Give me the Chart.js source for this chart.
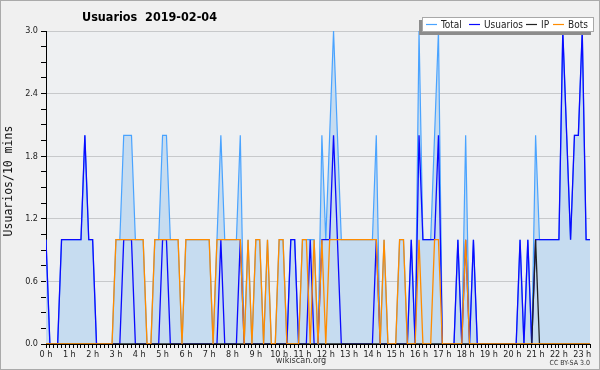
<!DOCTYPE html>
<html>
<head>
<meta charset="utf-8">
<script src="https://cdn.jsdelivr.net/npm/chart.js@4.4.1/dist/chart.umd.min.js"></script>
<style>
html,body{margin:0;padding:0;background:#f0f0f0;}
canvas{display:block;}
</style>
</head>
<body>
<canvas id="c" width="600" height="370"></canvas>
<script>
// ---- data: one value per 10-minute slot, starting at 0:00 ----
const hourLabels = ['0 h','1 h','2 h','3 h','4 h','5 h','6 h','7 h','8 h','9 h','10 h','11 h',
  '12 h','13 h','14 h','15 h','16 h','17 h','18 h','19 h','20 h','21 h','22 h','23 h'];
const yTickLabels = ['0.0','0.6','1.2','1.8','2.4','3.0'];
const seriesNames = ['Total','Usuarios','IP','Bots'];

const total = [
  1,0,0,0,1,1,1,1,1,1,2,1,
  1,0,0,0,0,0,1,1,2,2,2,1,
  1,1,0,0,1,1,2,2,1,1,1,0,
  1,1,1,1,1,1,1,0,1,2,1,1,
  1,1,2,0,1,0,1,1,0,1,0,0,
  1,1,0,1,1,0,1,1,1,1,0,2,
  1,2,3,2,1,1,1,1,1,1,1,1,
  1,2,0,1,0,0,0,1,1,0,1,0,
  3,1,1,1,2,3,0,0,0,0,1,0,
  2,0,1,0,0,0,0,0,0,0,0,0,
  0,0,1,0,1,0,2,1,1,1,1,1,
  1,3,2,1,2,2,3,1,1
];
const usuarios = [
  1,0,0,0,1,1,1,1,1,1,2,1,
  1,0,0,0,0,0,0,0,1,1,1,0,
  0,0,0,0,0,0,1,1,0,0,0,0,
  0,0,0,0,0,0,0,0,0,1,0,0,
  0,0,1,0,0,0,0,0,0,0,0,0,
  0,0,0,1,1,0,0,0,1,0,0,1,
  1,1,2,1,0,0,0,0,0,0,0,0,
  0,1,0,0,0,0,0,0,0,0,1,0,
  2,1,1,1,1,2,0,0,0,0,1,0,
  1,0,1,0,0,0,0,0,0,0,0,0,
  0,0,1,0,1,0,1,1,1,1,1,1,
  1,3,2,1,2,2,3,1,1
];
const ip = [
  0,0,0,0,0,0,0,0,0,0,0,0,
  0,0,0,0,0,0,0,0,0,0,0,0,
  0,0,0,0,0,0,0,0,0,0,0,0,
  0,0,0,0,0,0,0,0,0,0,0,0,
  0,0,0,0,0,0,0,0,0,0,0,0,
  0,0,0,0,0,0,0,0,0,0,0,0,
  0,0,0,0,0,0,0,0,0,0,0,0,
  0,0,0,0,0,0,0,0,0,0,0,0,
  0,0,0,0,0,0,0,0,0,0,0,0,
  0,0,0,0,0,0,0,0,0,0,0,0,
  0,0,0,0,0,0,1,0,0,0,0,0,
  0,0,0,0,0,0,0,0,0
];
const bots = [
  0,0,0,0,0,0,0,0,0,0,0,0,
  0,0,0,0,0,0,1,1,1,1,1,1,
  1,1,0,0,1,1,1,1,1,1,1,0,
  1,1,1,1,1,1,1,0,1,1,1,1,
  1,1,1,0,1,0,1,1,0,1,0,0,
  1,1,0,0,0,0,1,1,0,1,0,1,
  0,1,1,1,1,1,1,1,1,1,1,1,
  1,1,0,1,0,0,0,1,1,0,0,0,
  1,0,0,0,1,1,0,0,0,0,0,0,
  1,0,0,0,0,0,0,0,0,0,0,0,
  0,0,0,0,0,0,0,0,0,0,0,0,
  0,0,0,0,0,0,0,0,0
];

const colors = {Total:'#49a3ff', Usuarios:'#0a0aff', IP:'#222222', Bots:'#ff8c00'};
const COND = "'DejaVu Sans Condensed','DejaVu Sans',sans-serif";
const pts = arr => arr.map((v, i) => ({x: i, y: v}));

const decor = {
  id: 'decor',
  beforeDraw(chart) {
    const {ctx, chartArea: a} = chart;
    ctx.save();
    ctx.fillStyle = '#f0f0f0';
    ctx.fillRect(0, 0, chart.width, chart.height);
    ctx.fillStyle = '#eef0f2';
    ctx.fillRect(a.left, a.top, a.right - a.left, a.bottom - a.top);
    ctx.restore();
  },
  afterDraw(chart) {
    const ctx = chart.ctx;
    ctx.save();
    // title
    ctx.fillStyle = '#000';
    ctx.font = "bold 12.5px " + COND;
    ctx.textBaseline = 'alphabetic';
    ctx.textAlign = 'left';
    ctx.fillText('Usuarios  2019-02-04', 82, 21);
    // y title
    ctx.save();
    ctx.translate(9.5, 181);
    ctx.rotate(-Math.PI / 2);
    ctx.font = "11.5px 'DejaVu Sans Mono',monospace";
    ctx.textAlign = 'center';
    ctx.textBaseline = 'middle';
    ctx.fillStyle = '#111';
    ctx.fillText('Usuarios/10 mins', 0, 0);
    ctx.restore();
    // legend box
    ctx.fillStyle = '#8c8c8c';
    ctx.fillRect(419, 20, 172, 15);
    ctx.fillStyle = '#ffffff';
    ctx.fillRect(422, 17, 172, 15);
    ctx.strokeStyle = '#a8a8a8';
    ctx.lineWidth = 1;
    ctx.strokeRect(422.5, 17.5, 171, 14);
    const items = [
      {name: seriesNames[0], lx: 426, tx: 441},
      {name: seriesNames[1], lx: 469, tx: 484},
      {name: seriesNames[2], lx: 526, tx: 541},
      {name: seriesNames[3], lx: 553, tx: 568}
    ];
    ctx.font = "10px " + COND;
    ctx.textBaseline = 'middle';
    ctx.textAlign = 'left';
    items.forEach(it => {
      ctx.strokeStyle = colors[it.name];
      ctx.lineWidth = 1.2;
      ctx.beginPath();
      ctx.moveTo(it.lx, 24.5);
      ctx.lineTo(it.lx + 11, 24.5);
      ctx.stroke();
      ctx.fillStyle = '#222';
      ctx.fillText(it.name, it.tx, 25);
    });
    // footer
    ctx.fillStyle = '#333';
    ctx.textAlign = 'center';
    ctx.font = "9px " + COND;
    ctx.fillText('wikiscan.org', 301, 361);
    ctx.textAlign = 'right';
    ctx.font = "7px " + COND;
    ctx.fillText('CC BY-SA 3.0', 590, 363);
    // outer border
    ctx.strokeStyle = '#aaaaaa';
    ctx.lineWidth = 1;
    ctx.strokeRect(0.5, 0.5, chart.width - 1, chart.height - 1);
    ctx.restore();
  }
};

const mk = (name, arr, extra) => Object.assign({
  label: name,
  data: pts(arr),
  borderColor: colors[name],
  borderWidth: 1.3,
  pointRadius: 0,
  tension: 0,
  fill: false
}, extra);

new Chart(document.getElementById('c'), {
  type: 'line',
  data: {
    datasets: [
      mk('Total', total, {fill: 'origin', backgroundColor: '#c6dcf0', borderWidth: 1.2, order: 4}),
      mk('Usuarios', usuarios, {order: 3}),
      mk('IP', ip, {order: 2}),
      mk('Bots', bots, {order: 1})
    ]
  },
  options: {
    responsive: false,
    devicePixelRatio: 1,
    animation: false,
    layout: {padding: {left: 0, top: 31, right: 10, bottom: 0}},
    plugins: {legend: {display: false}, title: {display: false}, tooltip: {enabled: false}},
    scales: {
      x: {
        type: 'linear', min: 0, max: total.length - 1, z: 1,
        afterFit(s) { s.height = 26; },
        border: {display: true, color: '#000', width: 1},
        grid: {display: true, drawOnChartArea: false, drawTicks: true, tickLength: 4, tickColor: '#000'},
        ticks: {
          stepSize: 1, autoSkip: false, maxRotation: 0, minRotation: 0, padding: 1,
          color: '#222', font: {family: COND, size: 9},
          callback: v => (v % 6 === 0 ? hourLabels[v / 6] : '')
        }
      },
      y: {
        min: 0, max: 3, z: 1,
        afterFit(s) { s.width = 46; },
        border: {display: true, color: '#000', width: 1},
        grid: {
          color: c => (c.index % 4 === 0 ? 'rgba(0,0,0,0.16)' : 'rgba(0,0,0,0)'),
          tickColor: '#000', tickLength: 5, lineWidth: 1
        },
        ticks: {
          stepSize: 0.15, autoSkip: false, padding: 3,
          color: '#222', font: {family: COND, size: 9},
          callback: (v, i) => (i % 4 === 0 ? yTickLabels[i / 4] : '')
        }
      }
    }
  },
  plugins: [decor]
});
</script>
</body>
</html>
